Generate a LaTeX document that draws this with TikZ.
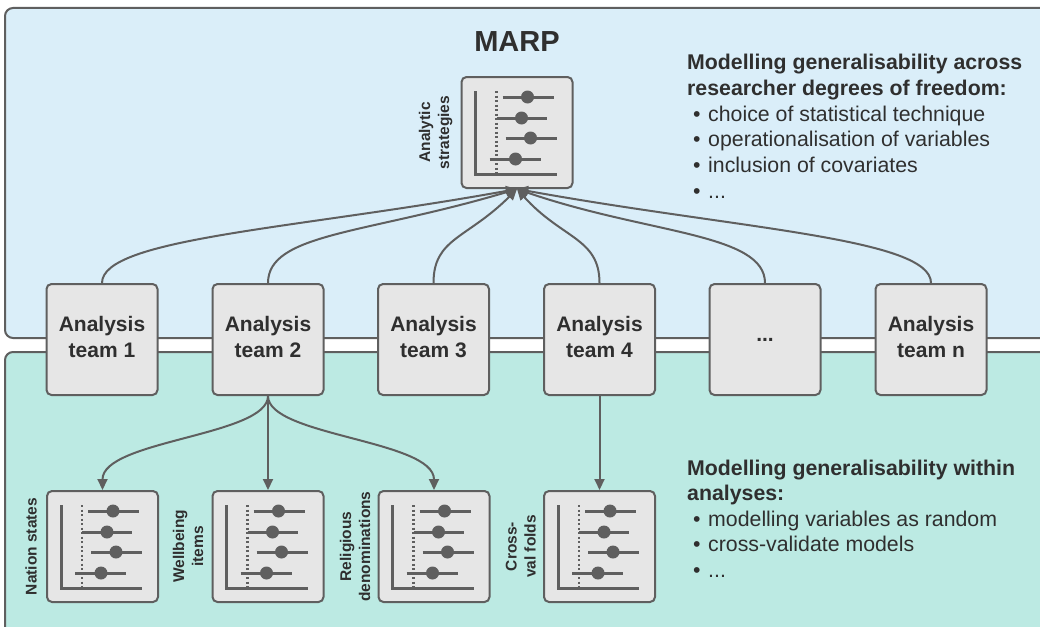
\documentclass[tikz,border=0pt]{standalone}
\usepackage{fontspec}
\setmainfont{Liberation Sans}
\usetikzlibrary{arrows.meta}
\definecolor{topfill}{HTML}{DAEEF9}
\definecolor{botfill}{HTML}{BCEAE3}
\definecolor{boxfill}{HTML}{E6E6E6}
\definecolor{strokec}{HTML}{5F5F5F}
\definecolor{txt}{HTML}{2F2F2F}
\newcommand\fsz[2]{\fontsize{#1}{#2}\selectfont}
\newcommand\drawchart[1]{%
  \begin{scope}[shift={(#1.north west)}]
    \draw[chartline] (15,15) -- (15,98) -- (96,98);
    \draw[dotline] (36,15) -- (36,98);
    \draw[chartline] (42,21) -- (93,21);
    \fill[strokec] (67,21) circle[radius=6.5pt];
    \draw[chartline] (36,42) -- (86,42);
    \fill[strokec] (61,42) circle[radius=6.5pt];
    \draw[chartline] (45,62) -- (96,62);
    \fill[strokec] (70,62) circle[radius=6.5pt];
    \draw[chartline] (29,83) -- (80,83);
    \fill[strokec] (55,83) circle[radius=6.5pt];
  \end{scope}}
\begin{document}
\begin{tikzpicture}[x=1pt,y=-1pt,
  panel/.style={draw=strokec, line width=2pt, rounded corners=8pt},
  teambox/.style={draw=strokec, line width=2pt, fill=boxfill, rounded corners=5pt,
    minimum width=111pt, minimum height=111pt, inner sep=0pt, align=center,
    text=txt, font=\bfseries\fsz{21}{25.5}},
  raised/.style={text depth=5pt},
  chartbox/.style={draw=strokec, line width=2pt, fill=boxfill, rounded corners=5pt,
    minimum width=111pt, minimum height=111pt, inner sep=0pt},
  chartline/.style={draw=strokec, line width=3pt},
  dotline/.style={draw=strokec, line width=2.5pt, dash pattern=on 2pt off 2.5pt},
  vlabel/.style={rotate=90, anchor=south, inner sep=0pt, align=center,
    text=txt, font=\bfseries\fsz{15.5}{19}},
  conn/.style={draw=strokec, line width=2pt, -{Triangle[length=11pt,width=10pt]}},
  hdr/.style={anchor=base west, inner sep=0pt, text=txt, font=\bfseries\fsz{21.3}{25}},
  item/.style={anchor=base west, inner sep=0pt, text=txt, font=\fsz{21.3}{25}},
  title/.style={anchor=base, inner sep=0pt, text=txt, font=\bfseries\fsz{29}{34}}
]
\clip (0,0) rectangle (1040,626);
\draw[panel, fill=topfill] (5,8) rectangle (1075,338);
\draw[panel, fill=botfill] (5,352) rectangle (1075,690);

\node[title] (marp) at (517,52) {MARP};

\node[chartbox] (strat) at (517,132.5) {};
\drawchart{strat}
\node[vlabel] (stratlab) at ([xshift=-8pt]strat.west) {Analytic\\strategies};

\node[teambox, raised] (t1) at (102,339.5) {Analysis\\team 1};
\node[teambox, raised] (t2) at (268,339.5) {Analysis\\team 2};
\node[teambox, raised] (t3) at (433.5,339.5) {Analysis\\team 3};
\node[teambox, raised] (t4) at (599.5,339.5) {Analysis\\team 4};
\node[teambox] (t5) at (765,339.5) {...};
\node[teambox, raised] (t6) at (931,339.5) {Analysis\\team n};

\draw[conn] (t1.north) .. controls +(0,-45) and +(-220,40) .. (strat.south);
\draw[conn] (t2.north) .. controls +(0,-50) and +(-150,45) .. (strat.south);
\draw[conn] (t3.north) .. controls +(0,-45) and +(-50,50) .. (strat.south);
\draw[conn] (t4.north) .. controls +(0,-45) and +(45,50) .. (strat.south);
\draw[conn] (t5.north) .. controls +(0,-50) and +(130,45) .. (strat.south);
\draw[conn] (t6.north) .. controls +(0,-45) and +(220,40) .. (strat.south);

\node[chartbox] (c1) at (102.5,546.5) {};
\node[chartbox] (c2) at (268,546.5) {};
\node[chartbox] (c3) at (434,546.5) {};
\node[chartbox] (c4) at (599.5,546.5) {};
\drawchart{c1}
\drawchart{c2}
\drawchart{c3}
\drawchart{c4}
\node[vlabel] (c1lab) at ([xshift=-9pt]c1.west) {Nation states};
\node[vlabel] (c2lab) at ([xshift=-8pt]c2.west) {Wellbeing\\items};
\node[vlabel] (c3lab) at ([xshift=-7pt]c3.west) {Religious\\denominations};
\node[vlabel] (c4lab) at ([xshift=-7pt]c4.west) {Cross-\\val folds};

\draw[conn] (t2.south) .. controls +(0,40) and +(0,-50) .. (c1.north);
\draw[conn] (t2.south) -- (c2.north);
\draw[conn] (t2.south) .. controls +(0,40) and +(0,-50) .. (c3.north);
\draw[conn] (t4.south) -- (c4.north);

\node[hdr] (a1) at (687,70) {Modelling generalisability across};
\node[hdr] (a2) at (687,95.6) {researcher degrees of freedom:};
\node[item] (a3) at (687,121.2) {\hspace*{6pt}\textbullet\hspace{7.6pt}choice of statistical technique};
\node[item] (a4) at (687,146.8) {\hspace*{6pt}\textbullet\hspace{7.6pt}operationalisation of variables};
\node[item] (a5) at (687,172.4) {\hspace*{6pt}\textbullet\hspace{7.6pt}inclusion of covariates};
\node[item] (a6) at (687,198) {\hspace*{6pt}\textbullet\hspace{7.6pt}...};

\node[hdr] (b1) at (687,475) {Modelling generalisability within};
\node[hdr] (b2) at (687,500.6) {analyses:};
\node[item] (b3) at (687,526.2) {\hspace*{6pt}\textbullet\hspace{7.6pt}modelling variables as random};
\node[item] (b4) at (687,551.8) {\hspace*{6pt}\textbullet\hspace{7.6pt}cross-validate models};
\node[item] (b5) at (687,577.4) {\hspace*{6pt}\textbullet\hspace{7.6pt}...};
\end{tikzpicture}
\end{document}
